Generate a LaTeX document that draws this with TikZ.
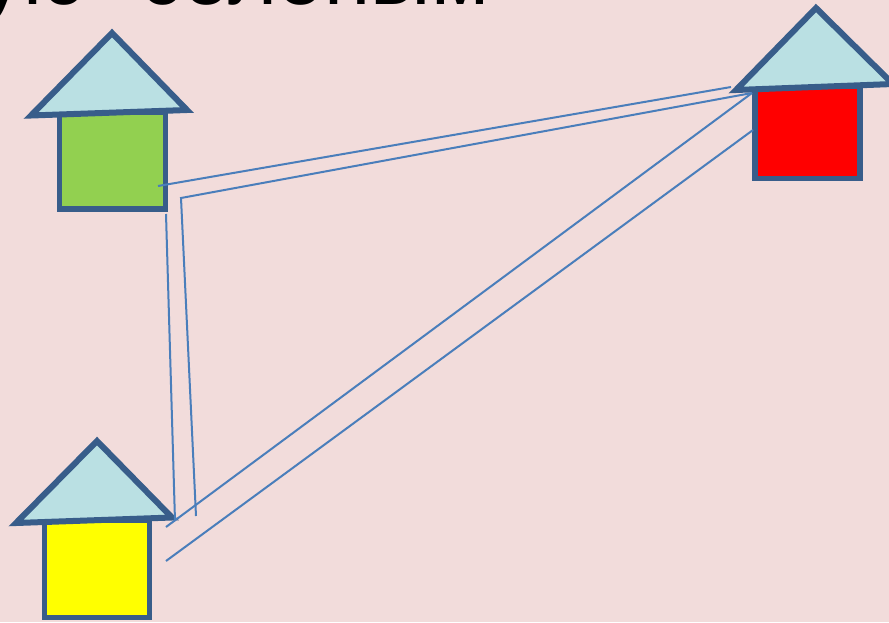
\documentclass[tikz,border=0pt]{standalone}
\usepackage{fontspec}
\setmainfont{Liberation Sans}
\usetikzlibrary{positioning}

\definecolor{slidebg}{HTML}{F2DCDB}
\definecolor{roofblue}{HTML}{BAE0E3}
\definecolor{edgeblue}{HTML}{385D8A}
\definecolor{wireblue}{HTML}{4A7EBB}
\definecolor{wallgreen}{HTML}{92D050}
\definecolor{wallyellow}{HTML}{FFFF00}
\definecolor{wallred}{HTML}{FF0000}

\begin{document}
\begin{tikzpicture}[x=1pt, y=-1pt]
        % Styles
        \tikzstyle{wall} = [rectangle, draw=edgeblue, line width=5.5pt, inner sep=0pt]
        \tikzstyle{roof} = [draw=edgeblue, fill=roofblue, line width=6pt]
        \tikzstyle{wire} = [draw=wireblue, line width=2pt]

        % Page
        \useasboundingbox (0,0) rectangle (889,622);
        \fill [slidebg] (0,0) rectangle (889,622);

        % Heading, cut off by the top edge
        \node (heading) [anchor=base west, inner sep=0pt, font=\fontsize{84}{84}\selectfont] at (-19,4.5) {ую\hspace{54pt}солоным};

        % Walls
        \node (greenwall) [wall, fill=wallgreen, minimum width=106pt, minimum height=97pt] at (112.5,160.5) {};
        \node (yellowwall) [wall, fill=wallyellow, minimum width=105.4pt, minimum height=97.5pt] at (97,568.75) {};
        \node (redwall) [wall, fill=wallred, minimum width=105pt, minimum height=92pt] at (807.7,132.5) {};

        % Roofs
        \draw [roof] (31,115.5) -- (112,33) -- (187,110) -- cycle;
        \draw [roof] (16,523) -- (97,441) -- (172,517.5) -- cycle;
        \draw [roof] (736,90) -- (816,8) -- (893,84) -- cycle;

        % Wire ends
        \coordinate (topa) at (158,186);
        \coordinate (topb) at (731,87);
        \coordinate (midbend) at (181,198);
        \coordinate (midtop) at (752,93);
        \coordinate (midfoot) at (196,516);
        \coordinate (lefttop) at (166,214);
        \coordinate (leftfoot) at (175,521);
        \coordinate (diaga) at (166,527);
        \coordinate (diagb) at (166,561);
        \coordinate (diagtop) at (753,130);

        % Wires
        \path [wire] (topa) -- (topb);
        \path [wire] (midfoot) -- (midbend) -- (midtop);
        \path [wire] (lefttop) -- (leftfoot);
        \path [wire] (diaga) -- (midtop);
        \path [wire] (diagb) -- (diagtop);
    \end{tikzpicture}
\end{document}
